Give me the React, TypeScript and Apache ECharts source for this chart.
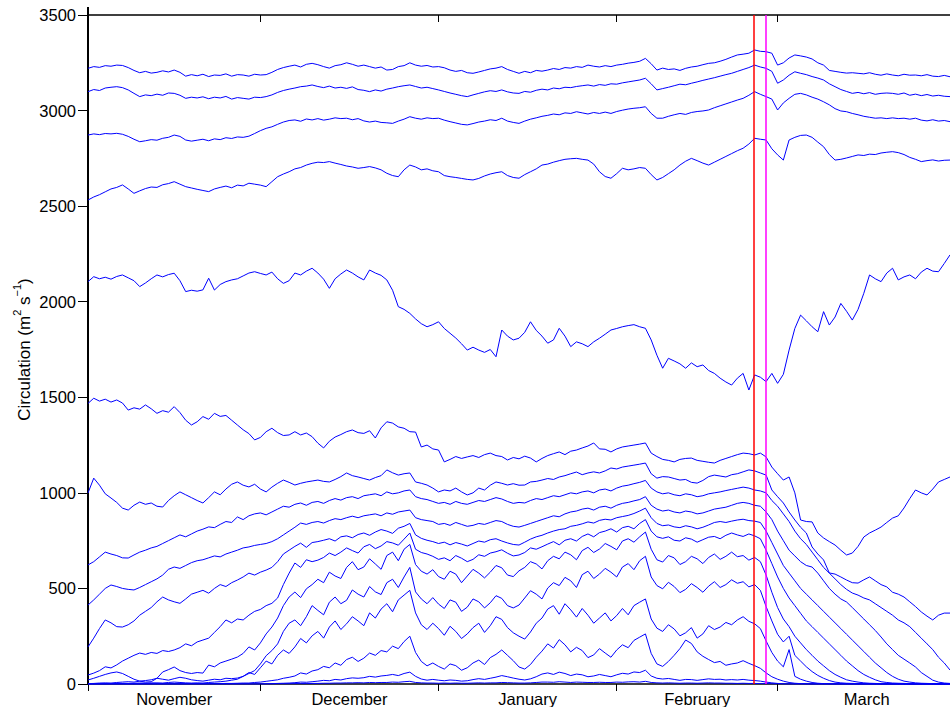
import React, { useEffect, useRef } from "react";
import * as echarts from "echarts";

// Time axis is in days since 1 November (0) up to 31 March (150).
const DAY_MAX = 150;
const monthStarts = [0, 30, 61, 92, 120];
const monthMids = [15, 45.5, 76.5, 106, 135.5];
const monthNames = ["November", "December", "January", "February", "March"];
const circulationTicks = [0, 500, 1000, 1500, 2000, 2500, 3000, 3500];
const markerRed = 115.9;
const markerMagenta = 117.9;

// Daily circulation on each level (m^2 s^-1), highest level first.
const level1 = [
  3221, 3230, 3226, 3235, 3232, 3238, 3236, 3225, 3210, 3198,
  3205, 3196, 3200, 3208, 3202, 3212, 3200, 3180, 3188, 3182,
  3190, 3178, 3186, 3184, 3192, 3180, 3188, 3186, 3180, 3190,
  3186, 3188, 3200, 3215, 3225, 3232, 3238, 3228, 3242, 3247,
  3240, 3230, 3222, 3235, 3240, 3250, 3242, 3232, 3238, 3230,
  3222, 3228, 3212, 3215, 3230, 3235, 3250, 3238, 3232, 3236,
  3228, 3230, 3224, 3212, 3205, 3210, 3198, 3195, 3202, 3210,
  3218, 3222, 3230, 3215, 3205, 3195, 3205, 3198, 3210, 3206,
  3212, 3220, 3215, 3225, 3222, 3230, 3226, 3238, 3232, 3228,
  3235, 3230, 3238, 3242, 3248, 3252, 3258, 3273, 3245, 3212,
  3222, 3215, 3218, 3210, 3221, 3228, 3232, 3240, 3247, 3250,
  3258, 3268, 3280, 3291, 3295, 3300, 3317, 3310, 3308, 3300,
  3238, 3250, 3275, 3291, 3286, 3280, 3270, 3250, 3238, 3210,
  3205, 3200, 3196, 3198, 3195, 3192, 3198, 3190, 3185, 3192,
  3186, 3182, 3190, 3185, 3186, 3182, 3188, 3180, 3178, 3184,
  3177,
];
const level2 = [
  3099, 3110, 3105, 3118, 3122, 3125, 3120, 3108, 3090, 3073,
  3082, 3078, 3086, 3080, 3092, 3090, 3080, 3064, 3070, 3066,
  3072, 3062, 3070, 3066, 3074, 3060, 3068, 3064, 3060, 3070,
  3068, 3073, 3082, 3095, 3105, 3112, 3118, 3125, 3128, 3134,
  3126, 3120, 3128, 3118, 3122, 3116, 3124, 3110, 3106, 3099,
  3108, 3102, 3112, 3118, 3125, 3130, 3134, 3126, 3118, 3122,
  3115, 3108, 3100, 3092, 3085, 3078, 3073, 3082, 3090, 3098,
  3104, 3100, 3108, 3098, 3092, 3090, 3100, 3096, 3106, 3112,
  3108, 3118, 3114, 3122, 3120, 3126, 3130, 3134, 3128, 3136,
  3132, 3140, 3138, 3145, 3150, 3155, 3160, 3169, 3140, 3108,
  3115, 3122, 3130, 3138, 3135, 3143, 3150, 3158, 3165, 3172,
  3180, 3188, 3195, 3205, 3215, 3225, 3238, 3228, 3221, 3205,
  3143, 3160, 3185, 3203, 3195, 3188, 3178, 3170, 3160, 3140,
  3125, 3110, 3100, 3090, 3095, 3088, 3094, 3085, 3090, 3092,
  3090, 3085, 3092, 3080, 3086, 3078, 3084, 3076, 3080, 3075,
  3073,
];
const level3 = [
  2872, 2878, 2874, 2880, 2878, 2881, 2876, 2865, 2850, 2837,
  2842, 2848, 2845, 2855, 2860, 2872, 2865, 2846, 2840, 2845,
  2850, 2842, 2852, 2848, 2858, 2854, 2862, 2860, 2866, 2880,
  2895, 2907, 2915, 2928, 2940, 2948, 2951, 2944, 2956, 2951,
  2958, 2950, 2955, 2962, 2958, 2960, 2952, 2958, 2946, 2940,
  2945, 2938, 2936, 2933, 2945, 2955, 2968, 2960, 2955, 2962,
  2958, 2960, 2950, 2942, 2935, 2928, 2925, 2932, 2940, 2945,
  2952, 2948, 2960, 2945, 2938, 2933, 2945, 2955, 2962, 2970,
  2975, 2982, 2978, 2988, 2985, 2994, 2988, 2982, 2990, 2985,
  2992, 2985, 2995, 3002, 3008, 3012, 3015, 3020, 2985, 2960,
  2960, 2970, 2978, 2985, 2980, 2990, 2995, 2998, 3003, 3015,
  3025, 3035, 3045, 3055, 3064, 3080, 3099, 3085, 3073, 3060,
  3003, 3040, 3064, 3085, 3090, 3082, 3070, 3060, 3046, 3030,
  3010, 2998, 2994, 2985, 2978, 2970, 2965, 2960, 2962, 2958,
  2962, 2958, 2960, 2955, 2960, 2950, 2946, 2952, 2945, 2948,
  2942,
];
const level4 = [
  2532, 2548, 2560, 2575, 2590, 2598, 2611, 2590, 2567, 2580,
  2592, 2600, 2598, 2612, 2618, 2628, 2615, 2602, 2595, 2588,
  2582, 2576, 2590, 2598, 2605, 2596, 2610, 2606, 2620, 2615,
  2610, 2602, 2628, 2654, 2668, 2680, 2695, 2702, 2715, 2724,
  2730, 2728, 2733, 2725, 2718, 2710, 2705, 2698, 2702, 2707,
  2700, 2690, 2672, 2660, 2654, 2690, 2715, 2705, 2690, 2695,
  2685, 2680, 2660, 2654, 2650, 2645, 2640, 2637, 2645, 2658,
  2668, 2675, 2680, 2660, 2650, 2646, 2665, 2680, 2695, 2715,
  2720, 2730, 2738, 2745, 2748, 2750, 2745, 2741, 2720, 2680,
  2655, 2646, 2670, 2698, 2690, 2695, 2702, 2698, 2665, 2637,
  2650, 2670, 2690, 2715, 2735, 2750, 2738, 2725, 2715, 2730,
  2745, 2760, 2775, 2790, 2803, 2825, 2855, 2850, 2846, 2800,
  2768, 2741, 2846, 2860, 2870, 2872, 2860, 2835, 2811, 2770,
  2741, 2745, 2752, 2760, 2768, 2765, 2772, 2770, 2778, 2782,
  2785, 2780, 2770, 2755, 2745, 2733, 2738, 2742, 2736, 2740,
  2741,
];
const level5 = [
  2105, 2131, 2120, 2128, 2118, 2132, 2140, 2125, 2110, 2079,
  2098, 2120, 2140, 2130, 2142, 2149, 2110, 2053, 2060, 2055,
  2062, 2123, 2061, 2090, 2105, 2114, 2120, 2135, 2150, 2157,
  2148, 2140, 2155, 2120, 2096, 2110, 2150, 2140, 2160, 2175,
  2150, 2118, 2070, 2120, 2145, 2166, 2150, 2130, 2114, 2166,
  2150, 2138, 2114, 2060, 1974, 1960, 1939, 1910, 1885, 1869,
  1880, 1895, 1860, 1835, 1810, 1780, 1747, 1762, 1747, 1735,
  1750, 1712, 1852, 1820, 1800, 1809, 1840, 1895, 1850, 1820,
  1783, 1800, 1861, 1820, 1765, 1790, 1780, 1765, 1790, 1809,
  1830, 1852, 1860, 1869, 1875, 1880, 1869, 1861, 1800, 1720,
  1652, 1704, 1690, 1675, 1652, 1680, 1660, 1669, 1640, 1625,
  1600, 1580, 1564, 1600, 1625, 1538, 1617, 1605, 1582, 1625,
  1573, 1620, 1747, 1860, 1930, 1900, 1869, 1843, 1948, 1878,
  1920, 1991, 1950, 1904, 1960, 2044, 2140, 2120, 2105, 2150,
  2175, 2114, 2130, 2140, 2120, 2155, 2175, 2160, 2157, 2200,
  2245,
];
const level6 = [
  1468, 1495, 1480, 1490, 1475, 1486, 1470, 1433, 1445, 1438,
  1460, 1440, 1416, 1430, 1422, 1451, 1420, 1380, 1355, 1372,
  1399, 1385, 1416, 1400, 1405, 1380, 1355, 1330, 1310, 1277,
  1290, 1320, 1338, 1315, 1300, 1303, 1320, 1303, 1313, 1294,
  1260, 1235, 1270, 1292, 1305, 1320, 1329, 1315, 1311, 1325,
  1287, 1340, 1372, 1365, 1345, 1338, 1320, 1318, 1240, 1250,
  1230, 1224, 1162, 1175, 1190, 1180, 1188, 1195, 1185, 1200,
  1208, 1195, 1190, 1172, 1185, 1178, 1192, 1182, 1162, 1180,
  1195, 1205, 1214, 1200, 1218, 1224, 1235, 1245, 1261, 1230,
  1228, 1214, 1230, 1240, 1245, 1250, 1255, 1261, 1208, 1190,
  1175, 1170, 1162, 1175, 1180, 1182, 1170, 1165, 1160, 1156,
  1170, 1180, 1190, 1200, 1208, 1205, 1198, 1208, 1188, 1135,
  1100, 1067, 1083, 1000, 858, 850, 848, 790, 764, 745,
  727, 700, 675, 685, 720, 769, 790, 805, 821, 845,
  868, 880, 921, 970, 1015, 1000, 989, 1020, 1057, 1070,
  1083,
];
const level7 = [
  999, 1077, 1040, 995, 973, 950, 920, 910, 935, 952,
  940, 947, 930, 926, 960, 985, 1005, 990, 975, 960,
  947, 975, 1005, 990, 1020, 1045, 1057, 1040, 1031, 1045,
  1020, 1005, 1030, 1050, 1067, 1055, 1041, 1050, 1057, 1062,
  1067, 1060, 1057, 1070, 1085, 1104, 1090, 1083, 1075, 1067,
  1080, 1090, 1120, 1105, 1093, 1100, 1104, 1057, 1050, 1041,
  1025, 1005, 1015, 1010, 1025, 1005, 989, 1000, 1025, 1015,
  1040, 1057, 1050, 1041, 1048, 1040, 1041, 1057, 1060, 1067,
  1075, 1070, 1083, 1090, 1100, 1109, 1095, 1104, 1110, 1104,
  1115, 1130, 1125, 1135, 1140, 1145, 1150, 1156, 1100, 1077,
  1085, 1083, 1075, 1067, 1070, 1055, 1051, 1065, 1085, 1093,
  1088, 1083, 1095, 1100, 1110, 1120, 1115, 1104, 1093, 1015,
  980, 947, 900, 858, 820, 790, 717, 680, 649, 581,
  575, 560, 544, 530, 528, 545, 560, 540, 520, 508,
  480, 470, 455, 430, 405, 377, 355, 335, 360, 371,
  371,
];
const level8 = [
  623, 640, 665, 690, 680, 672, 660, 659, 675, 690,
  700, 712, 720, 735, 750, 765, 780, 770, 785, 800,
  810, 822, 818, 835, 850, 845, 874, 860, 880, 890,
  895, 885, 900, 915, 930, 925, 940, 947, 935, 950,
  955, 945, 960, 970, 962, 975, 980, 970, 985, 990,
  995, 985, 1005, 995, 1000, 1010, 1015, 980, 970, 965,
  955, 945, 950, 940, 955, 945, 940, 950, 960, 955,
  965, 975, 968, 955, 945, 950, 947, 960, 970, 965,
  975, 985, 980, 990, 1000, 995, 1005, 1010, 1000, 1015,
  1020, 1010, 1025, 1035, 1040, 1048, 1055, 1065, 1025, 1005,
  995, 1000, 990, 985, 995, 990, 980, 985, 995, 1000,
  1005, 1012, 1018, 1024, 1030, 1025, 1015, 1010, 1000, 960,
  930, 890, 850, 800, 760, 730, 690, 650, 610, 580,
  550, 520, 495, 476, 465, 450, 440, 420, 400, 380,
  360, 335, 320, 300, 270, 240, 210, 180, 140, 110,
  73,
];
const level9 = [
  413, 440, 470, 500, 518, 510, 500, 495, 492, 505,
  520, 535, 550, 570, 600, 612, 605, 620, 635, 645,
  650, 660, 670, 665, 680, 690, 700, 712, 717, 725,
  730, 735, 745, 760, 780, 800, 820, 842, 835, 845,
  850, 842, 855, 865, 860, 870, 878, 870, 880, 885,
  890, 880, 895, 888, 900, 905, 910, 870, 860, 855,
  850, 835, 840, 830, 845, 835, 825, 830, 840, 835,
  845, 855, 850, 835, 825, 821, 830, 840, 850, 860,
  870, 880, 875, 890, 900, 905, 915, 920, 910, 925,
  930, 920, 935, 945, 950, 958, 965, 980, 935, 915,
  905, 910, 900, 895, 905, 900, 890, 895, 905, 915,
  920, 925, 935, 945, 950, 945, 935, 930, 900, 860,
  800, 750, 700, 670, 640, 620, 612, 580, 540, 500,
  470, 445, 429, 400, 370, 340, 310, 280, 246, 210,
  180, 150, 130, 110, 89, 60, 40, 20, 10, 5,
  3,
];
const level10 = [
  194, 240, 290, 335, 320, 300, 298, 310, 330, 360,
  380, 400, 430, 455, 440, 430, 422, 445, 470, 480,
  490, 475, 500, 520, 510, 530, 544, 560, 580, 570,
  585, 596, 610, 640, 680, 700, 720, 737, 715, 740,
  745, 752, 760, 748, 770, 775, 765, 782, 790, 778,
  795, 808, 800, 788, 815, 825, 840, 780, 762, 752,
  745, 735, 742, 728, 740, 732, 722, 735, 748, 742,
  755, 760, 748, 738, 730, 727, 742, 758, 770, 778,
  790, 800, 808, 812, 825, 830, 838, 848, 842, 856,
  862, 858, 870, 876, 882, 892, 905, 920, 870, 840,
  828, 832, 822, 818, 828, 822, 812, 820, 832, 845,
  850, 845, 852, 858, 862, 855, 852, 845, 800, 740,
  680, 620, 580, 540, 500, 470, 440, 410, 380, 350,
  320, 290, 260, 230, 200, 170, 140, 110, 85, 60,
  40, 25, 15, 10, 6, 4, 3, 2, 1, 1,
  0,
];
const level11 = [
  47, 57, 70, 90, 84, 100, 120, 135, 150, 162,
  155, 165, 160, 175, 170, 178, 190, 210, 200, 220,
  230, 240, 270, 300, 335, 320, 340, 335, 360, 380,
  390, 410, 422, 450, 520, 580, 633, 610, 650, 640,
  648, 662, 685, 672, 690, 712, 698, 685, 718, 730,
  708, 722, 745, 738, 726, 758, 790, 705, 688, 680,
  668, 652, 660, 645, 672, 658, 640, 652, 676, 668,
  685, 692, 702, 684, 670, 675, 688, 712, 705, 718,
  732, 745, 728, 752, 760, 748, 772, 785, 770, 792,
  800, 812, 795, 818, 825, 812, 840, 860, 800, 770,
  762, 770, 752, 748, 765, 758, 742, 755, 768, 772,
  760, 778, 790, 780, 772, 785, 775, 760, 700, 630,
  560, 500, 450, 410, 370, 330, 300, 270, 240, 210,
  180, 150, 120, 95, 70, 50, 35, 22, 12, 8,
  5, 4, 3, 2, 2, 1, 1, 1, 0, 0,
  0,
];
const level12 = [
  21, 30, 40, 50, 58, 63, 55, 40, 25, 15,
  10, 12, 30, 63, 75, 89, 70, 60, 55, 60,
  57, 99, 90, 110, 120, 130, 141, 160, 194, 178,
  215, 262, 298, 345, 410, 455, 481, 452, 498, 520,
  548, 530, 585, 565, 552, 610, 640, 598, 612, 655,
  628, 600, 672, 690, 645, 705, 730, 625, 590, 575,
  598, 562, 548, 590, 575, 530, 565, 600, 580, 555,
  585, 620, 608, 570, 562, 592, 610, 640, 628, 602,
  645, 668, 655, 690, 676, 650, 698, 715, 688, 706,
  735, 720, 702, 748, 760, 742, 770, 795, 705, 650,
  638, 672, 660, 625, 640, 668, 655, 630, 662, 680,
  652, 668, 690, 666, 672, 648, 662, 640, 570, 480,
  400, 340, 300, 250, 215, 180, 150, 120, 95, 70,
  50, 35, 22, 15, 10, 6, 4, 3, 2, 1,
  1, 0, 0, 0, 0, 0, 0, 0, 0, 0,
  0,
];
const level13 = [
  2, 3, 5, 6, 5, 8, 10, 12, 10, 15,
  18, 22, 30, 25, 20, 28, 35, 30, 22, 18,
  15, 20, 25, 22, 30, 28, 31, 40, 55, 70,
  105, 148, 175, 210, 275, 318, 335, 305, 352, 410,
  385, 362, 428, 455, 420, 438, 492, 470, 455, 510,
  482, 468, 530, 548, 505, 560, 610, 482, 445, 420,
  452, 418, 395, 440, 428, 380, 402, 445, 430, 398,
  425, 462, 448, 410, 398, 413, 450, 488, 470, 445,
  502, 530, 515, 558, 540, 505, 572, 590, 552, 575,
  605, 585, 560, 612, 630, 598, 645, 668, 560, 515,
  498, 532, 510, 478, 495, 525, 505, 480, 512, 535,
  505, 520, 545, 527, 535, 508, 520, 490, 405, 330,
  260, 220, 250, 150, 120, 90, 65, 45, 30, 18,
  10, 6, 4, 3, 2, 1, 1, 0, 0, 0,
  0, 0, 0, 0, 0, 0, 0, 0, 0, 0,
  0,
];
const level14 = [
  0, 0, 1, 1, 2, 2, 3, 3, 4, 5,
  5, 6, 6, 5, 8, 10, 8, 6, 5, 6,
  5, 8, 10, 12, 15, 20, 25, 40, 60, 50,
  85, 120, 105, 150, 178, 160, 194, 238, 215, 252,
  275, 240, 298, 330, 285, 315, 352, 330, 305, 372,
  345, 392, 420, 378, 440, 465, 490, 372, 310, 285,
  318, 290, 255, 302, 275, 238, 262, 295, 318, 270,
  305, 352, 338, 295, 268, 250, 235, 272, 318, 345,
  392, 410, 365, 420, 388, 350, 395, 360, 318, 345,
  372, 330, 358, 395, 362, 410, 428, 445, 340, 292,
  275, 310, 288, 252, 268, 295, 240, 262, 305, 285,
  298, 322, 310, 335, 352, 328, 315, 290, 225, 165,
  120, 90, 180, 40, 25, 15, 8, 4, 2, 1,
  0, 0, 0, 0, 0, 0, 0, 0, 0, 0,
  0, 0, 0, 0, 0, 0, 0, 0, 0, 0,
  0,
];
const level15 = [
  0, 0, 0, 0, 0, 0, 0, 0, 0, 0,
  0, 0, 0, 0, 0, 0, 0, 1, 1, 1,
  1, 2, 2, 2, 3, 3, 4, 5, 5, 8,
  10, 14, 18, 22, 30, 35, 42, 58, 52, 68,
  75, 92, 85, 110, 98, 128, 140, 118, 135, 162,
  150, 175, 168, 198, 185, 222, 250, 165, 118, 95,
  110, 92, 78, 105, 96, 72, 85, 110, 125, 102,
  138, 155, 178, 150, 122, 89, 78, 102, 140, 172,
  210, 188, 232, 205, 168, 192, 175, 138, 152, 185,
  162, 140, 178, 205, 190, 228, 245, 262, 160, 105,
  92, 118, 150, 185, 230, 212, 168, 145, 128, 112,
  118, 98, 105, 110, 122, 108, 96, 82, 58, 38,
  25, 15, 8, 4, 2, 1, 0, 0, 0, 0,
  0, 0, 0, 0, 0, 0, 0, 0, 0, 0,
  0, 0, 0, 0, 0, 0, 0, 0, 0, 0,
  0,
];
const level16 = [
  0, 0, 0, 0, 0, 0, 0, 0, 0, 0,
  0, 0, 0, 0, 0, 0, 0, 0, 0, 0,
  0, 0, 0, 0, 0, 0, 0, 0, 0, 0,
  0, 1, 2, 3, 4, 5, 7, 10, 9, 12,
  15, 19, 17, 24, 21, 28, 32, 30, 33, 40,
  36, 42, 45, 50, 44, 55, 62, 40, 26, 20,
  24, 20, 17, 21, 19, 15, 17, 23, 28, 24,
  30, 36, 44, 38, 31, 25, 21, 27, 38, 52,
  58, 50, 62, 55, 44, 52, 48, 38, 42, 50,
  44, 38, 48, 56, 52, 63, 60, 72, 42, 30,
  26, 29, 24, 19, 24, 23, 19, 23, 27, 24,
  25, 21, 23, 21, 24, 20, 18, 15, 10, 6,
  3, 1, 0, 0, 0, 0, 0, 0, 0, 0,
  0, 0, 0, 0, 0, 0, 0, 0, 0, 0,
  0, 0, 0, 0, 0, 0, 0, 0, 0, 0,
  0,
];
const level17 = [
  0, 0, 0, 0, 0, 0, 0, 0, 0, 0,
  0, 0, 0, 0, 0, 0, 0, 0, 0, 0,
  0, 0, 0, 0, 0, 0, 0, 0, 0, 0,
  0, 0, 0, 1, 1, 1, 2, 2, 2, 3,
  3, 4, 4, 5, 5, 6, 6, 7, 6, 8,
  7, 8, 8, 10, 9, 12, 14, 8, 6, 5,
  5, 4, 5, 4, 5, 4, 4, 5, 6, 5,
  6, 6, 8, 7, 6, 5, 5, 6, 8, 10,
  10, 9, 12, 10, 8, 10, 9, 8, 8, 9,
  8, 8, 10, 9, 11, 12, 10, 14, 8, 6,
  5, 6, 5, 4, 5, 5, 4, 5, 6, 5,
  5, 4, 4, 3, 4, 3, 3, 2, 2, 1,
  1, 0, 0, 0, 0, 0, 0, 0, 0, 0,
  0, 0, 0, 0, 0, 0, 0, 0, 0, 0,
  0, 0, 0, 0, 0, 0, 0, 0, 0, 0,
  0,
];

const levels = [
  level1, level2, level3, level4, level5, level6, level7, level8, level9,
  level10, level11, level12, level13, level14, level15, level16, level17,
];

const FONT = "'Liberation Sans', Arial, Helvetica, sans-serif";
const LINE_BLUE = "#0000ff";

function toPairs(values: number[]): number[][] {
  return values.map((v, day) => [day, v]);
}

export default function App() {
  const ref = useRef<HTMLDivElement>(null);

  useEffect(() => {
    if (!ref.current) return;
    const chart = echarts.init(ref.current, undefined, { renderer: "svg" });

    const levelSeries: any[] = levels.map((vals, i) => ({
      type: "line",
      name: `level${i + 1}`,
      data: toPairs(vals),
      showSymbol: false,
      symbol: "none",
      silent: true,
      lineStyle: { color: LINE_BLUE, width: 1 },
      z: 2,
    }));

    levelSeries[levelSeries.length - 1].markLine = {
      symbol: "none",
      silent: true,
      animation: false,
      label: { show: false },
      z: 5,
      data: [
        { xAxis: markerRed, lineStyle: { color: "#ff0000", width: 1.5, type: "solid" } },
        { xAxis: markerMagenta, lineStyle: { color: "#ff00ff", width: 1.5, type: "solid" } },
      ],
    };

    chart.setOption({
      animation: false,
      backgroundColor: "#ffffff",
      grid: { left: 88, right: 0, top: 15, bottom: 23, containLabel: false, outerBoundsMode: "none" },
      xAxis: [
        {
          type: "value",
          position: "bottom",
          min: 0,
          max: DAY_MAX,
          axisLine: { show: true, onZero: false, lineStyle: { color: "#000", width: 1.5 } },
          axisTick: { show: true, inside: false, length: 7, customValues: monthStarts, lineStyle: { color: "#000", width: 1 } },
          axisLabel: {
            show: true,
            customValues: monthMids,
            margin: 6,
            color: "#000",
            fontSize: 16.5,
            fontFamily: FONT,
            formatter: (v: number) => {
              const idx = monthMids.findIndex((m) => Math.abs(m - v) < 0.01);
              return idx >= 0 ? monthNames[idx] : "";
            },
          },
          splitLine: { show: false },
        },
        {
          type: "value",
          position: "top",
          min: 0,
          max: DAY_MAX,
          axisLine: { show: true, onZero: false, lineStyle: { color: "#000", width: 1.5 } },
          axisTick: { show: true, inside: true, length: 7, customValues: monthStarts, lineStyle: { color: "#000", width: 1 } },
          axisLabel: { show: false },
          splitLine: { show: false },
        },
      ],
      yAxis: {
        type: "value",
        min: 0,
        max: 3500,
        interval: 500,
        axisLine: { show: true, onZero: false, lineStyle: { color: "#000", width: 2 } },
        axisTick: { show: true, inside: false, length: 10, lineStyle: { color: "#000", width: 1 } },
        axisLabel: {
          margin: 12,
          color: "#000",
          fontSize: 16.5,
          fontFamily: FONT,
          customValues: circulationTicks,
          formatter: (v: number) => String(v),
        },
        splitLine: { show: false },
        name: "{a|Circulation (m}{s|2}{a| s}{s|\u22121}{a|)}",
        nameLocation: "middle",
        nameGap: 55,
        nameMoveOverlap: false,
        nameTextStyle: {
          color: "#000",
          fontFamily: FONT,
          rich: {
            a: { fontSize: 17, fontFamily: FONT, color: "#000", lineHeight: 22, verticalAlign: "bottom" },
            s: { fontSize: 11, fontFamily: FONT, color: "#000", lineHeight: 11, verticalAlign: "top" },
          },
        },
      },
      graphic: [
        {
          type: "line",
          silent: true,
          shape: { x1: 88, y1: 7, x2: 88, y2: 15 },
          style: { stroke: "#000", lineWidth: 2 },
        },
      ],
      series: levelSeries,
    });

    return () => chart.dispose();
  }, []);

  return <div ref={ref} style={{ position: "fixed", left: 0, top: 0, width: 950, height: 707 }} />;
}
